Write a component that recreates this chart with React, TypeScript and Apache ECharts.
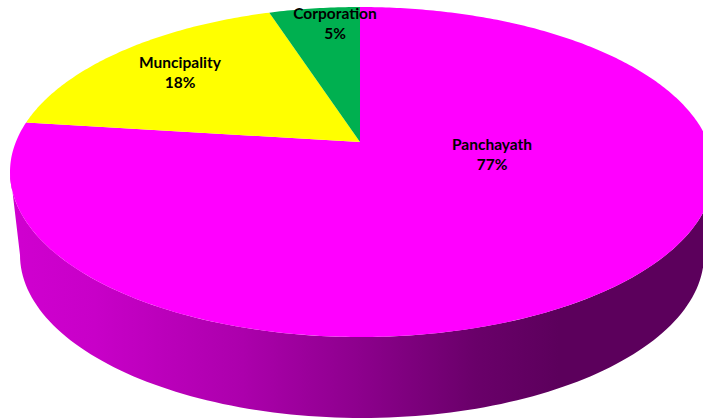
import React, { useEffect, useRef } from "react";
import * as echarts from "echarts";

const categories = ["Panchayath", "Muncipality", "Corporation"];
const shares = [77, 18, 5];
const colours = ["#ff00ff", "#ffff00", "#00b050"];

// Perspective of the pie's top face
const APEX_X = 360, APEX_Y = 142, TOP_Y = 7, BOTTOM_Y = 337, HALF_W_LEFT = 350, HALF_W_RIGHT = 354;
const K = (2 * APEX_Y - TOP_Y - BOTTOM_Y) / (BOTTOM_Y - TOP_Y);
const B = APEX_Y - TOP_Y + TOP_Y * K;
const SQ = Math.sqrt(1 - K * K);

function rim(theta: number): number[] {
  const u = Math.sin(theta), v = -Math.cos(theta);
  const w = 1 + K * v;
  const a = (u >= 0 ? HALF_W_RIGHT : HALF_W_LEFT) * SQ;
  return [APEX_X + (a * u) / w, (APEX_Y + B * v) / w];
}

function arcPoints(cx: number, cy: number, rx: number, ry: number, from: number, to: number) {
  const pts: number[][] = [];
  const n = 120;
  for (let i = 0; i <= n; i++) {
    const t = from + ((to - from) * i) / n;
    pts.push([cx + rx * Math.cos(t), cy + ry * Math.sin(t)]);
  }
  return pts;
}

function rimPoints(from: number, to: number) {
  const pts: number[][] = [];
  const n = 120;
  for (let i = 0; i <= n; i++) pts.push(rim(from + ((to - from) * i) / n));
  return pts;
}

const wallPoints = [
  ...arcPoints(362, 255, 342, 163, Math.PI, 0),
  ...rimPoints((100 * Math.PI) / 180, (260 * Math.PI) / 180),
];

const labelAnchors = [
  [492, 144],
  [180, 62],
  [335, 13],
];

export default function App() {
  const ref = useRef<HTMLDivElement>(null);
  useEffect(() => {
    if (!ref.current) return;
    const chart = echarts.init(ref.current, undefined, { renderer: "svg" });
    const total = shares.reduce((a, b) => a + b, 0);
    const font = 'bold 15.5px Lato, "Open Sans", sans-serif';
    chart.setOption({
      animation: false,
      backgroundColor: "#ffffff",
      graphic: {
        elements: [
          {
            type: "polygon",
            z: 0,
            shape: { points: wallPoints },
            style: {
              fill: new echarts.graphic.LinearGradient(0, 0, 1, 0, [
                { offset: 0, color: "#d000d0" },
                { offset: 0.12, color: "#c800c8" },
                { offset: 0.33, color: "#ac00ac" },
                { offset: 0.5, color: "#8c008c" },
                { offset: 0.66, color: "#6a006a" },
                { offset: 0.78, color: "#5c005c" },
                { offset: 1, color: "#5c005c" },
              ]),
            },
          },
        ],
      },
      series: [
        {
          type: "custom",
          coordinateSystem: "none",
          z: 5,
          data: shares,
          renderItem(params: any, api: any) {
            const i = params.dataIndex;
            const before = shares.slice(0, i).reduce((a, b) => a + b, 0);
            const start = (before / total) * Math.PI * 2;
            const end = ((before + api.value(0)) / total) * Math.PI * 2;
            const n = Math.max(4, Math.round((end - start) * 80));
            const pts: number[][] = [[APEX_X, APEX_Y]];
            for (let s = 0; s <= n; s++) pts.push(rim(start + ((end - start) * s) / n));
            return {
              type: "polygon",
              shape: { points: pts },
              style: { fill: colours[i] },
            };
          },
        },
        {
          type: "custom",
          coordinateSystem: "none",
          z: 6,
          data: shares,
          renderItem(params: any, api: any) {
            const i = params.dataIndex;
            const [x, y] = labelAnchors[i];
            return {
              type: "group",
              children: [
                { type: "text", style: { text: categories[i], x, y, align: "center", verticalAlign: "middle", font, fill: "#000000" } },
                { type: "text", style: { text: `${api.value(0)}%`, x, y: y + 20, align: "center", verticalAlign: "middle", font, fill: "#000000" } },
              ],
            };
          },
        },
      ],
    });
    return () => chart.dispose();
  }, []);
  return <div ref={ref} style={{ position: "absolute", left: 0, top: 0, width: 703, height: 419 }} />;
}
